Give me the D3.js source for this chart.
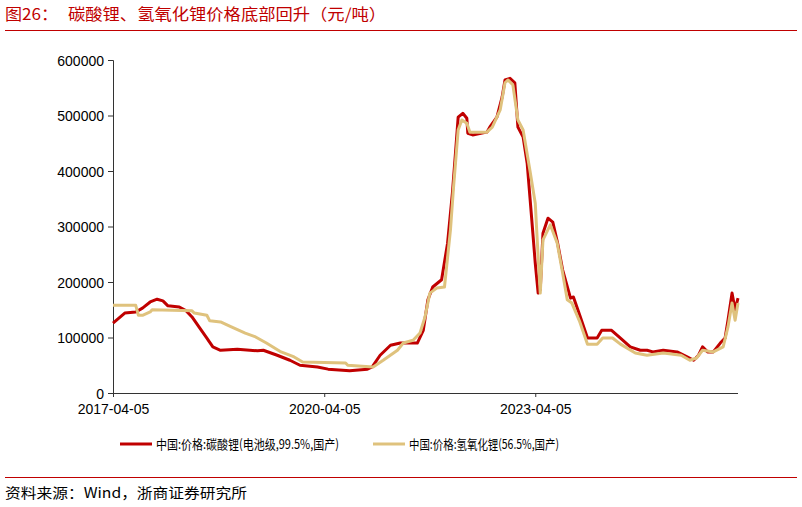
<!DOCTYPE html>
<html>
<head>
<meta charset="utf-8">
<script src="https://cdn.jsdelivr.net/npm/d3@7"></script>
<style>
  body { margin: 0; background: #fff; }
  svg { display: block; }
</style>
</head>
<body>
<svg class="chart"></svg>
<script>
// data
var carbonateDates = ["2017-04-05","2017-06-05","2017-08-01","2017-09-05","2017-10-15","2017-11-20","2017-12-20","2018-01-15","2018-03-15","2018-04-20","2018-05-20","2018-06-25","2018-08-05","2018-09-05","2018-10-15","2019-01-10","2019-04-25","2019-05-25","2019-08-05","2019-10-10","2019-12-01","2020-03-01","2020-04-25","2020-08-15","2020-11-15","2020-12-10","2021-01-20","2021-03-15","2021-05-05","2021-08-01","2021-09-01","2021-09-25","2021-10-20","2021-12-05","2022-01-05","2022-01-30","2022-02-15","2022-03-01","2022-03-25","2022-04-15","2022-04-20","2022-05-15","2022-07-28","2022-08-12","2022-09-18","2022-10-15","2022-10-30","2022-11-25","2022-12-20","2023-01-05","2023-02-01","2023-02-22","2023-03-18","2023-04-05","2023-04-20","2023-05-01","2023-05-15","2023-06-10","2023-07-05","2023-07-30","2023-08-25","2023-10-05","2023-10-20","2023-11-25","2024-01-01","2024-02-20","2024-03-15","2024-05-05","2024-06-20","2024-08-10","2024-10-01","2024-11-05","2024-12-05","2025-01-28","2025-04-10","2025-06-01","2025-07-05","2025-07-30","2025-08-20","2025-09-15","2025-10-15","2025-11-20","2025-12-15","2025-12-30","2026-01-20","2026-02-05","2026-02-20"];
var carbonateValues = [126000,144000,146000,153000,164000,169000,166000,157000,155000,148000,137000,119000,99000,83000,77000,79000,76000,77000,68000,59000,50000,47000,43000,40000,43000,47000,68000,86000,90000,90000,113000,168000,191000,204000,270000,360000,432000,497000,504000,495000,468000,465000,470000,479000,497000,533000,564000,567000,559000,479000,461000,414000,312000,234000,180000,186000,288000,315000,308000,270000,222000,171000,173000,137000,99000,99000,113000,113000,99000,83000,77000,77000,74000,77000,74000,65000,59000,68000,83000,74000,74000,90000,99000,131000,180000,150000,171000];

var hydroxideDates = ["2017-04-05","2017-08-01","2017-08-15","2017-09-05","2017-10-15","2017-10-25","2018-05-20","2018-06-01","2018-08-05","2018-08-20","2018-10-15","2018-12-10","2019-02-20","2019-04-15","2019-06-10","2019-08-25","2019-11-01","2019-12-15","2020-07-25","2020-08-05","2020-12-15","2021-02-05","2021-04-20","2021-05-20","2021-07-10","2021-08-15","2021-09-10","2021-10-05","2021-11-10","2021-12-20","2022-01-20","2022-02-05","2022-03-01","2022-03-20","2022-04-15","2022-05-01","2022-07-28","2022-08-25","2022-10-05","2022-10-30","2022-11-15","2022-12-10","2023-01-05","2023-02-01","2023-03-08","2023-04-05","2023-04-20","2023-05-01","2023-05-15","2023-06-22","2023-07-28","2023-08-22","2023-09-18","2023-10-12","2023-11-20","2024-01-01","2024-02-20","2024-03-20","2024-05-10","2024-06-20","2024-09-05","2024-11-05","2025-01-28","2025-05-01","2025-06-15","2025-07-20","2025-08-20","2025-10-15","2025-12-05","2025-12-30","2026-01-20","2026-02-05","2026-02-20"];
var hydroxideValues = [158000,158000,140000,140000,146000,150000,148000,144000,140000,130000,128000,119000,108000,101000,90000,74000,65000,56000,54000,50000,47000,59000,77000,90000,95000,108000,137000,180000,189000,191000,294000,371000,474000,492000,486000,470000,470000,479000,510000,559000,564000,555000,492000,474000,402000,342000,245000,180000,276000,303000,270000,222000,168000,162000,130000,88000,88000,99000,99000,88000,72000,68000,72000,68000,59000,63000,77000,74000,83000,119000,162000,131000,162000];

var yTicks = [0, 100000, 200000, 300000, 400000, 500000, 600000];
var xTickLabels = ["2017-04-05", "2020-04-05", "2023-04-05"];
var seriesNames = ["中国:价格:碳酸锂(电池级,99.5%,国产)", "中国:价格:氢氧化锂(56.5%,国产)"];

var W = 802, H = 507;
var red = "#c00000", tan = "#dfc27d";
var cjk = "'Noto Sans CJK SC', sans-serif";
var latin = "'Liberation Sans', Arial, sans-serif";

var svg = d3.select(".chart").attr("width", W).attr("height", H);
var parse = d3.timeParse("%Y-%m-%d");

var x = d3.scaleTime()
    .domain([parse("2017-04-05"), parse("2026-02-20")])
    .range([113, 738]);
var y = d3.scaleLinear().domain([0, 600000]).range([393, 60]);

// title + rules
svg.append("text").attr("x", 5).attr("y", 20)
    .attr("fill", red).style("font-family", cjk).style("font-size", "16px")
    .attr("textLength", 53).attr("lengthAdjust", "spacingAndGlyphs")
    .text("图26：");
svg.append("text").attr("x", 68).attr("y", 20)
    .attr("fill", red).style("font-family", cjk).style("font-size", "16px")
    .attr("textLength", 318).attr("lengthAdjust", "spacingAndGlyphs")
    .text("碳酸锂、氢氧化锂价格底部回升（元/吨）");
svg.append("line").attr("x1", 5).attr("x2", 797).attr("y1", 30.5).attr("y2", 30.5)
    .attr("stroke", red).attr("stroke-width", 1);
svg.append("line").attr("x1", 5).attr("x2", 797).attr("y1", 477.5).attr("y2", 477.5)
    .attr("stroke", red).attr("stroke-width", 1);
svg.append("text").attr("x", 5).attr("y", 498)
    .attr("fill", "#000").style("font-family", cjk).style("font-size", "14px")
    .attr("textLength", 242).attr("lengthAdjust", "spacingAndGlyphs")
    .text("资料来源：Wind，浙商证券研究所");

// axes
var yAxis = svg.append("g").attr("transform", "translate(113,0)")
    .call(d3.axisLeft(y).tickValues(yTicks).tickSize(5).tickPadding(4).tickFormat(d3.format("d")));
var xAxis = svg.append("g").attr("transform", "translate(0,393)")
    .call(d3.axisBottom(x).tickValues(xTickLabels.map(parse)).tickSize(4).tickPadding(7)
        .tickFormat(d3.timeFormat("%Y-%m-%d")));
xAxis.select(".domain").attr("d", "M113,0.5H738");
[yAxis, xAxis].forEach(function (g) {
    g.selectAll("path, line").attr("stroke", "#333");
    g.selectAll("text").attr("fill", "#000")
        .style("font-family", latin).style("font-size", "14px");
});
yAxis.selectAll("text").attr("dy", "0.36em");

// lines
var line = d3.line()
    .x(function (d) { return x(d.date); })
    .y(function (d) { return y(d.value); });

function series(dates, values) {
    return dates.map(function (d, i) { return {date: parse(d), value: values[i]}; });
}

svg.append("path").datum(series(carbonateDates, carbonateValues))
    .attr("d", line).attr("fill", "none").attr("stroke", red)
    .attr("stroke-width", 3).attr("stroke-linejoin", "round");
svg.append("path").datum(series(hydroxideDates, hydroxideValues))
    .attr("d", line).attr("fill", "none").attr("stroke", tan)
    .attr("stroke-width", 3).attr("stroke-linejoin", "round");

// legend
var legend = svg.append("g").attr("transform", "translate(0,444)");
[[120, red, 183], [373, tan, 150]].forEach(function (l, i) {
    legend.append("line").attr("x1", l[0]).attr("x2", l[0] + 32).attr("y1", 0).attr("y2", 0)
        .attr("stroke", l[1]).attr("stroke-width", 3);
    legend.append("text").attr("x", l[0] + 36).attr("y", 4.5)
        .style("font-family", cjk).style("font-size", "13px").attr("fill", "#000")
        .attr("textLength", l[2]).attr("lengthAdjust", "spacingAndGlyphs")
        .text(seriesNames[i]);
});
</script>
</body>
</html>
